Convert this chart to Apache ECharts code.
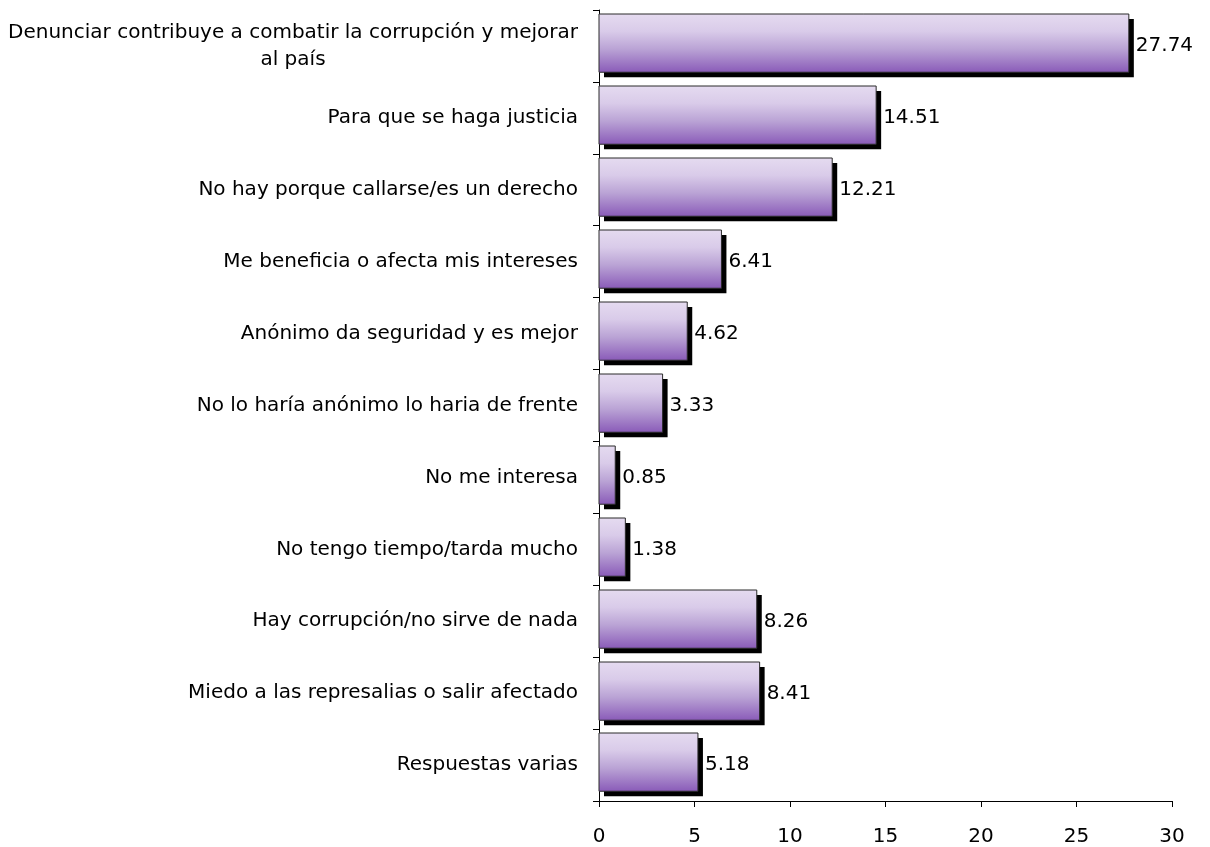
<!DOCTYPE html>
<html>
<head>
<meta charset="utf-8">
<script src="https://cdn.jsdelivr.net/npm/echarts@6/dist/echarts.min.js"></script>
<style>
html,body{margin:0;padding:0;background:#fff;}
#chart{width:1210px;height:847px;}
</style>
</head>
<body>
<div id="chart"></div>
<script>
const categories = [
  "Denunciar contribuye a combatir la corrupción y mejorar\nal país",
  "Para que se haga justicia",
  "No hay porque callarse/es un derecho",
  "Me beneficia o afecta mis intereses",
  "Anónimo da seguridad y es mejor",
  "No lo haría anónimo lo haria de frente",
  "No me interesa",
  "No tengo tiempo/tarda mucho",
  "Hay corrupción/no sirve de nada",
  "Miedo a las represalias o salir afectado",
  "Respuestas varias"
];
const values = [27.74, 14.51, 12.21, 6.41, 4.62, 3.33, 0.85, 1.38, 8.26, 8.41, 5.18];
const xTicks = [0, 5, 10, 15, 20, 25, 30];

const FONT = "DejaVu Sans";
const SHADOW = 5;
const chart = echarts.init(document.getElementById('chart'), null, {renderer: 'canvas'});
const grad = new echarts.graphic.LinearGradient(0, 0, 0, 1, [
  {offset: 0, color: '#E5DBF0'},
  {offset: 0.3, color: '#D9CBE9'},
  {offset: 0.6, color: '#BAA3D5'},
  {offset: 1, color: '#895AB8'}
]);
chart.setOption({
  animation: false,
  backgroundColor: '#fff',
  grid: {left: 599, right: 38, top: 10, bottom: 44, containLabel: false},
  xAxis: {
    type: 'value',
    min: xTicks[0],
    max: xTicks[xTicks.length - 1],
    interval: 5,
    axisLine: {show: true, lineStyle: {color: '#000', width: 1}},
    axisTick: {show: true, length: 6, lineStyle: {color: '#000'}},
    splitLine: {show: false},
    axisLabel: {color: '#000', fontSize: 20, fontFamily: FONT, margin: 26}
  },
  yAxis: {
    type: 'category',
    inverse: true,
    data: categories,
    axisLine: {show: true, lineStyle: {color: '#000', width: 1}},
    axisTick: {show: true, length: 6, alignWithLabel: false, lineStyle: {color: '#000'}},
    axisLabel: {
      color: '#000', fontSize: 20, fontFamily: FONT, margin: 21, align: 'right',
      formatter: function (v) {
        if (v.indexOf('\n') >= 0) {
          return v.split('\n').map(s => '{c|' + s + '}').join('\n');
        }
        return v;
      },
      rich: {
        c: {width: 570, align: 'center', fontSize: 20, fontFamily: FONT, color: '#000', lineHeight: 27}
      }
    }
  },
  series: [{
    type: 'custom',
    data: values.map((v, i) => [v, i]),
    encode: {x: 0, y: 1},
    renderItem: function (params, api) {
      const val = api.value(0);
      const idx = api.value(1);
      const p0 = api.coord([0, idx]);
      const p1 = api.coord([val, idx]);
      const band = api.size([0, 1])[1];
      const h = band * 0.81;
      const x0 = Math.round(p0[0]);
      const w = p1[0] - p0[0];
      const y0 = Math.round(p0[1] - (h + SHADOW) / 2);
      return {
        type: 'group',
        children: [
          {type: 'rect', shape: {x: x0 + SHADOW, y: y0 + SHADOW, width: w, height: h},
           style: {fill: '#000'}},
          {type: 'rect', shape: {x: x0, y: y0, width: w, height: h},
           style: {fill: grad, stroke: '#2a2a2a', lineWidth: 1}},
          {type: 'text', x: p1[0] + SHADOW + 2, y: y0 + h / 2 + SHADOW / 2,
           style: {text: val.toFixed(2), fill: '#000', font: '20px ' + FONT,
                   textAlign: 'left', textVerticalAlign: 'middle'}}
        ]
      };
    }
  }]
});
</script>
</body>
</html>
